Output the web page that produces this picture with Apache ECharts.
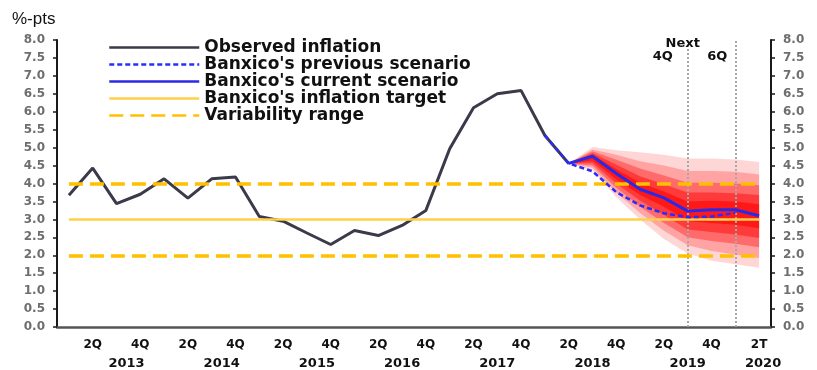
<!DOCTYPE html>
<html>
<head>
<meta charset="utf-8">
<script src="https://cdn.jsdelivr.net/npm/echarts@6/dist/echarts.min.js"></script>
<style>
  html, body { margin: 0; padding: 0; background: #fff; }
  #chart { width: 817px; height: 370px; }
</style>
</head>
<body>
<div id="chart"></div>
<script>
// ---------- data ----------
const categories = [
  '1Q2013','2Q2013','3Q2013','4Q2013',
  '1Q2014','2Q2014','3Q2014','4Q2014',
  '1Q2015','2Q2015','3Q2015','4Q2015',
  '1Q2016','2Q2016','3Q2016','4Q2016',
  '1Q2017','2Q2017','3Q2017','4Q2017',
  '1Q2018','2Q2018','3Q2018','4Q2018',
  '1Q2019','2Q2019','3Q2019','4Q2019',
  '1Q2020','2Q2020'
];
const quarterLabels = [
  '','2Q','','4Q', '','2Q','','4Q', '','2Q','','4Q', '','2Q','','4Q',
  '','2Q','','4Q', '','2Q','','4Q', '','2Q','','4Q', '','2T'
];
const yearLabels = [
  '','','2013','', '','','2014','', '','','2015','', '','','2016','',
  '','','2017','', '','','2018','', '','','2019','', '','2020'
];
// observed inflation, 1Q2013 .. 2Q2018
const observedInflation = [
  3.67, 4.43, 3.44, 3.70, 4.13, 3.59, 4.13, 4.18,
  3.08, 2.95, 2.62, 2.30, 2.69, 2.55, 2.83, 3.25,
  4.97, 6.11, 6.50, 6.59, 5.34, 4.56
];
// previous scenario, starts 1Q2018
const previousStart = '1Q2018';
const previousScenario = [5.34, 4.56, 4.34, 3.76, 3.39, 3.17, 3.06, 3.08, 3.18];
// current scenario and fan, start 2Q2018
const currentStart = '2Q2018';
const currentScenario = [4.56, 4.76, 4.28, 3.84, 3.60, 3.23, 3.27, 3.27, 3.10];
const fanUpper90 = [4.56, 5.02, 4.93, 4.87, 4.80, 4.70, 4.70, 4.67, 4.60];
const fanLower90 = [4.56, 4.37, 3.62, 3.00, 2.45, 2.05, 1.85, 1.75, 1.65];
const fanUpper70 = [4.56, 4.95, 4.80, 4.62, 4.50, 4.35, 4.35, 4.33, 4.25];
const fanLower70 = [4.56, 4.44, 3.75, 3.18, 2.68, 2.28, 2.12, 2.02, 1.92];
const fanUpper50 = [4.56, 4.90, 4.66, 4.42, 4.22, 4.02, 4.02, 4.00, 3.95];
const fanLower50 = [4.56, 4.50, 3.88, 3.35, 2.90, 2.50, 2.40, 2.32, 2.22];
const fanUpper30 = [4.56, 4.85, 4.52, 4.20, 3.98, 3.75, 3.75, 3.73, 3.68];
const fanLower30 = [4.56, 4.57, 4.00, 3.52, 3.12, 2.72, 2.65, 2.58, 2.48];
const fanUpper10 = [4.56, 4.81, 4.40, 4.02, 3.78, 3.50, 3.52, 3.50, 3.42];
const fanLower10 = [4.56, 4.64, 4.12, 3.68, 3.35, 2.95, 2.90, 2.85, 2.75];
const inflationTarget = 3.0;
const variabilityRange = [2.0, 4.0];
const horizonMarks = ['3Q2019', '1Q2020'];
const horizonText = ['Next', '4Q', '6Q'];
const legendNames = [
  'Observed inflation',
  "Banxico's previous scenario",
  "Banxico's current scenario",
  "Banxico's inflation target",
  'Variability range'
];

// ---------- helpers ----------
function place(startCat, arr) {
  const s = categories.indexOf(startCat);
  return categories.map((c, i) => (i >= s && i - s < arr.length) ? arr[i - s] : null);
}
function bandWidth(up, lo) { return up.map((u, i) => +(u - lo[i]).toFixed(3)); }

const fanLevels = [
  { up: fanUpper90, lo: fanLower90, a: 0.16 },
  { up: fanUpper70, lo: fanLower70, a: 0.24 },
  { up: fanUpper50, lo: fanLower50, a: 0.34 },
  { up: fanUpper30, lo: fanLower30, a: 0.45 },
  { up: fanUpper10, lo: fanLower10, a: 0.58 }
];

const series = [];
fanLevels.forEach((lv, k) => {
  series.push({
    type: 'line', name: 'fanbase' + k, stack: 'fan' + k, symbol: 'none',
    data: place(currentStart, lv.lo), lineStyle: { opacity: 0 }, z: 1, silent: true
  });
  series.push({
    type: 'line', name: 'fanband' + k, stack: 'fan' + k, symbol: 'none',
    data: place(currentStart, bandWidth(lv.up, lv.lo)), lineStyle: { opacity: 0 },
    areaStyle: { color: 'rgba(255,0,0,' + lv.a + ')', opacity: 1 }, z: 1, silent: true
  });
});

const first = categories[0], last = categories[categories.length - 1];

series.push({
  type: 'line', name: 'horizon', data: [], symbol: 'none', z: 2,
  markLine: {
    silent: true, symbol: 'none', label: { show: false },
    lineStyle: { color: '#a8a8a8', type: 'dotted', width: 2 },
    data: horizonMarks.map(m => ({ xAxis: m }))
  }
});
series.push({
  type: 'line', name: "Banxico's inflation target", data: [], symbol: 'none', z: 3,
  lineStyle: { color: '#ffd04a', width: 2.5 }, itemStyle: { color: '#ffd04a' },
  markLine: {
    silent: true, symbol: 'none', label: { show: false },
    lineStyle: { color: '#ffd04a', width: 2.5, type: 'solid' },
    data: [[{ coord: [first, inflationTarget] }, { coord: [last, inflationTarget] }]]
  }
});
series.push({
  type: 'line', name: 'Variability range', data: [], symbol: 'none', z: 3,
  lineStyle: { color: '#ffc000', width: 3.5, type: [14, 7] }, itemStyle: { color: '#ffc000' },
  markLine: {
    silent: true, symbol: 'none', label: { show: false },
    lineStyle: { color: '#ffc000', width: 3.5, type: [14, 7] },
    data: variabilityRange.map(v => [{ coord: [first, v] }, { coord: [last, v] }])
  }
});
series.push({
  type: 'line', name: 'Observed inflation', data: observedInflation, symbol: 'none', z: 4,
  lineStyle: { color: '#3a3a4a', width: 3 }, itemStyle: { color: '#3a3a4a' }
});
series.push({
  type: 'line', name: "Banxico's current scenario", data: place(currentStart, currentScenario),
  symbol: 'none', z: 5,
  lineStyle: { color: '#2a2ae6', width: 3 }, itemStyle: { color: '#4a4aff' }
});
series.push({
  type: 'line', name: "Banxico's previous scenario", data: place(previousStart, previousScenario),
  symbol: 'none', z: 6,
  lineStyle: { color: '#2b2bff', width: 2.5, type: [5, 3] }, itemStyle: { color: '#2b2bff' }
});

const yLabelStyle = {
  fontFamily: 'DejaVu Sans', fontWeight: 'bold', fontSize: 12, color: '#6e6e6e',
  formatter: v => v.toFixed(1)
};
function yAxisCfg(pos) {
  return {
    type: 'value', position: pos, min: 0, max: 8, interval: 0.5,
    axisLine: { show: true, lineStyle: { color: '#1a1a1a', width: 2 } },
    axisTick: { show: true, inside: false, length: 4, lineStyle: { color: '#1a1a1a', width: 1.5 } },
    axisLabel: Object.assign({ margin: 12 }, yLabelStyle),
    splitLine: { show: false }
  };
}

const chart = echarts.init(document.getElementById('chart'), null, { renderer: 'canvas' });
chart.setOption({
  animation: false,
  backgroundColor: '#ffffff',
  title: {
    text: '%-pts', left: 7, top: 6,
    textStyle: { fontFamily: 'Liberation Sans', fontWeight: 'normal', fontSize: 17, color: '#111' }
  },
  grid: { left: 57, right: 46, top: 40, bottom: 43 },
  legend: {
    data: legendNames, orient: 'vertical', left: 108, top: 39,
    itemWidth: 90, itemHeight: 17, itemGap: 0, padding: 0,
    itemStyle: { opacity: 0, borderWidth: 0 },
    lineStyle: { width: 2.5 },
    textStyle: { fontFamily: 'DejaVu Sans', fontWeight: 'bold', fontSize: 17, color: '#111', lineHeight: 17 },
    selectedMode: false
  },
  xAxis: [
    {
      type: 'category', data: categories, boundaryGap: true, position: 'bottom',
      axisLine: { show: true, lineStyle: { color: '#555', width: 2.5 } },
      axisTick: { show: false },
      axisLabel: {
        interval: 0, margin: 12, fontFamily: 'DejaVu Sans', fontWeight: 'bold', fontSize: 12, color: '#111',
        formatter: (v, i) => quarterLabels[i]
      },
      splitLine: { show: false }
    },
    {
      type: 'category', data: categories, boundaryGap: true, position: 'bottom',
      axisLine: { show: false }, axisTick: { show: false },
      axisLabel: {
        interval: 0, margin: 30, fontFamily: 'DejaVu Sans', fontWeight: 'bold', fontSize: 13, color: '#111',
        formatter: (v, i) => {
          const y = yearLabels[i];
          if (!y) return '';
          if (y === '2013' || y === '2014' || y === '2015') return '{r|' + y + '}';
          if (y === '2020') return '{e|' + y + '}';
          return y;
        },
        rich: {
          r: { padding: [0, 0, 0, 20], fontFamily: 'DejaVu Sans', fontWeight: 'bold', fontSize: 13, color: '#111' },
          e: { padding: [0, 0, 0, 8], fontFamily: 'DejaVu Sans', fontWeight: 'bold', fontSize: 13, color: '#111' }
        }
      }
    }
  ],
  yAxis: [yAxisCfg('left'), yAxisCfg('right')],
  series: series
});

// horizon annotations, positioned from the axes' own scales
const xa = chart.convertToPixel({ xAxisIndex: 0 }, horizonMarks[0]);
const xb = chart.convertToPixel({ xAxisIndex: 0 }, horizonMarks[1]);
const yTop = chart.convertToPixel({ yAxisIndex: 0 }, 8);
const tStyle = { font: 'bold 13px "DejaVu Sans"', fill: '#111', align: 'center', verticalAlign: 'middle' };
chart.setOption({
  graphic: [
    { type: 'text', z: 100, style: Object.assign({ text: horizonText[0], x: xa - 5, y: yTop + 4 }, tStyle) },
    { type: 'text', z: 100, style: Object.assign({ text: horizonText[1], x: xa - 25, y: yTop + 17 }, tStyle) },
    { type: 'text', z: 100, style: Object.assign({ text: horizonText[2], x: xb - 18, y: yTop + 17 }, tStyle) }
  ]
});
</script>
</body>
</html>
